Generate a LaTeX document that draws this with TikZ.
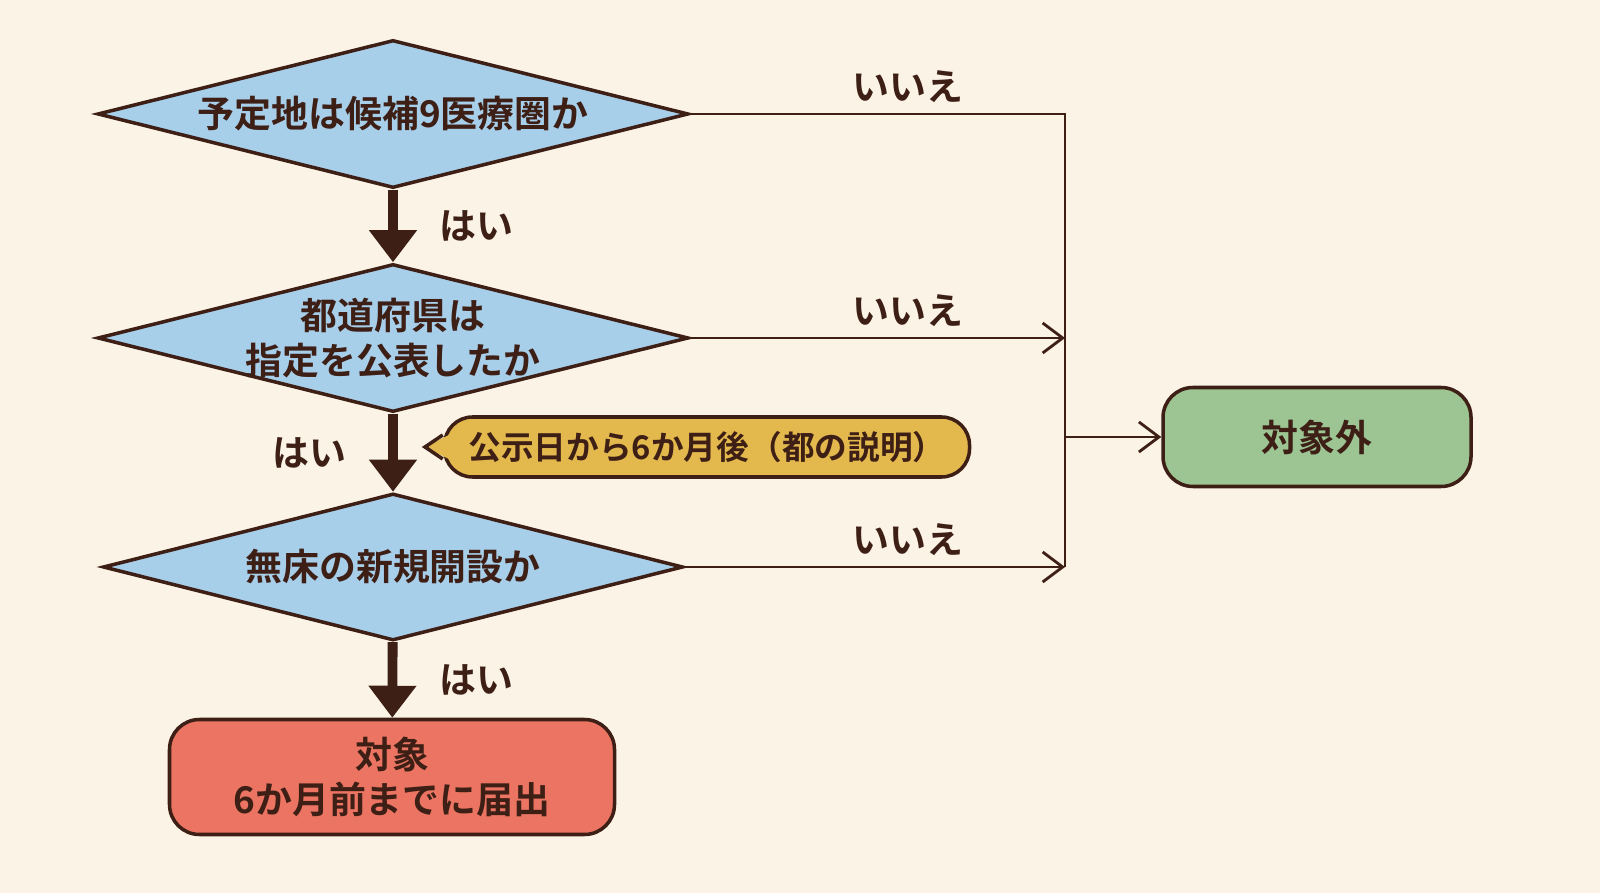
\documentclass[tikz,border=0pt]{standalone}
\usepackage{fontspec}
\setmainfont{Noto Sans CJK JP}[BoldFont={Noto Sans CJK JP Bold}]
\usetikzlibrary{shapes.geometric,arrows.meta,calc}
\definecolor{bg}{HTML}{FBF3E6}
\definecolor{ink}{HTML}{3D1F16}
\definecolor{qblue}{HTML}{A8CFEA}
\definecolor{yesred}{HTML}{EB7462}
\definecolor{nogreen}{HTML}{9DC593}
\definecolor{noteyel}{HTML}{E3B94E}
\tikzset{
  txt/.style={font=\fontsize{10.5}{13}\selectfont\bfseries, text=ink},
  question/.style={diamond, draw=ink, line width=1pt, fill=qblue, inner sep=0pt,
    minimum width=5.91cm, minimum height=1.48cm},
  result/.style={rectangle, rounded corners=0.3cm, draw=ink, line width=1pt, txt, align=center},
  yes/.style={ink, line width=2.8pt, -{Triangle[length=0.32cm,width=0.46cm]}},
  no/.style={ink, line width=0.8pt, -{Straight Barb[length=0.2cm,width=0.3cm]}},
}
\begin{document}
\begin{tikzpicture}
\fill[bg] (0,0) rectangle (16,-8.93);
\useasboundingbox (0,0) rectangle (16,-8.93);

% questions
\node[question, label={[txt]center:予定地は候補9医療圏か}] (q1) at (3.93,-1.14) {};
\node[question, label={[txt, align=center]center:都道府県は\\指定を公表したか}] (q2) at (3.93,-3.38) {};
\node[question, minimum width=5.80cm, minimum height=1.47cm, label={[txt]center:無床の新規開設か}] (q3) at (3.93,-5.67) {};

% results
\node[result, fill=yesred, minimum width=4.45cm, minimum height=1.15cm] (yes) at (3.92,-7.77) {対象\\6か月前までに届出};
\node[result, fill=nogreen, minimum width=3.08cm, minimum height=0.99cm] (out) at (13.17,-4.37) {対象外};

% note
\node[rectangle, rounded corners=0.28cm, draw=ink, line width=1pt, fill=noteyel, txt,
  font=\fontsize{9.3}{11}\selectfont\bfseries, inner xsep=0.1cm,
  minimum width=5.25cm, minimum height=0.6cm] (note) at (7.07,-4.47) {公示日から6か月後（都の説明）};
\coordinate (tip) at (4.25,-4.47);
\fill[noteyel] ($(note.west)+(0.06,0.12)$) -- (tip) -- ($(note.west)+(0.06,-0.12)$) -- cycle;
\draw[ink, line width=1pt] ($(note.west)+(0,0.12)$) -- (tip) -- ($(note.west)+(0,-0.12)$);

% right side
\coordinate (r1) at (10.65,-1.14);
\coordinate (r2) at (10.65,-3.38);
\coordinate (r3) at (10.65,-5.67);
\coordinate (rm) at (10.65,-4.37);

\draw[yes] (q1) -- node[txt, right=0.3cm] {はい} (q2);
\draw[yes] (q2) -- node[txt, left=0.3cm] {はい} (q3);
\draw[yes] (q3) -- node[txt, right=0.3cm] {はい} (yes);

\draw[ink, line width=0.8pt] (q1.east) -- (r1) -- (r3);
\draw[no] (q2.east) -- (r2);
\draw[no] (q3.east) -- (r3);
\draw[no] (rm) -- (out);
\node[txt] at (9.08,-0.87) {いいえ};
\node[txt] at (9.08,-3.11) {いいえ};
\node[txt] at (9.08,-5.40) {いいえ};
\end{tikzpicture}
\end{document}
